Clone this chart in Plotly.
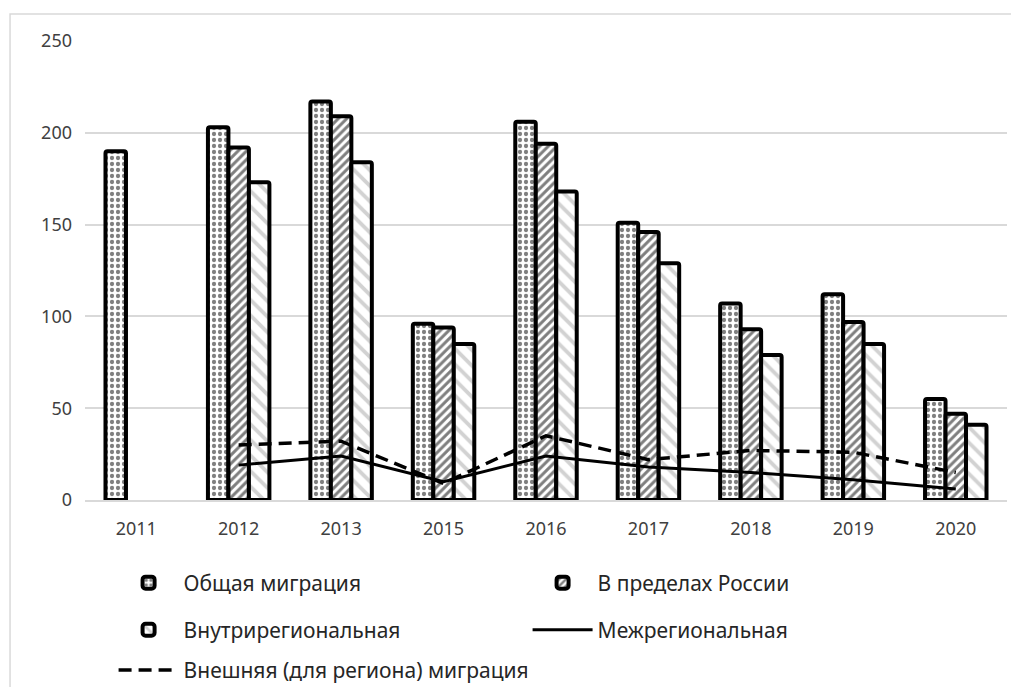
import plotly.graph_objects as go

years = ['2011', '2012', '2013', '2015', '2016', '2017', '2018', '2019', '2020']

total = [190, 203, 217, 96, 206, 151, 107, 112, 55]
russia = [None, 192, 209, 94, 194, 146, 93, 97, 47]
intra = [None, 173, 184, 85, 168, 129, 79, 85, 41]
inter = [None, 19, 24, 10, 24, 18, 15, 11, 6]
external = [None, 30, 32, 9, 35, 22, 27, 26, 15]

font = "Noto Sans"

fig = go.Figure()

fig.add_trace(go.Bar(
    x=years, y=total, name='Общая миграция', legend='legend',
    marker=dict(color='white', line=dict(color='black', width=4), cornerradius=2,
                pattern=dict(shape='.', fgcolor='black', bgcolor='white', size=6, solidity=0.4)),
))
fig.add_trace(go.Bar(
    x=years, y=russia, name='В пределах России', legend='legend',
    marker=dict(color='white', line=dict(color='black', width=4), cornerradius=2,
                pattern=dict(shape='/', fgcolor='black', bgcolor='white', size=6, solidity=0.5)),
))
fig.add_trace(go.Bar(
    x=years, y=intra, name='Внутрирегиональная', legend='legend2',
    marker=dict(color='white', line=dict(color='black', width=4), cornerradius=2,
                pattern=dict(shape='\\', fgcolor='#a6a6a6', bgcolor='white', size=11, solidity=0.35)),
))
fig.add_trace(go.Scatter(
    x=years, y=inter, name='Межрегиональная', legend='legend2', mode='lines',
    line=dict(color='black', width=3),
))
fig.add_trace(go.Scatter(
    x=years, y=external, name='Внешняя (для региона) миграция', legend='legend3', mode='lines',
    line=dict(color='black', width=3.5, dash='13px,7px'),
))

# page body has an 8px margin, so the figure is drawn 16px smaller
leg = dict(orientation='h', x=0.031, xanchor='left', yref='container', yanchor='middle',
           font=dict(family=font, size=21, color='#262626'),
           entrywidth=339, entrywidthmode='pixels', bgcolor='rgba(0,0,0,0)',
           itemwidth=60, traceorder='normal')

fig.update_layout(
    width=1003, height=679,
    margin=dict(l=77, r=4, t=33, b=187, autoexpand=False),
    paper_bgcolor='white', plot_bgcolor='white',
    barmode='group', bargap=0.4, bargroupgap=0,
    font=dict(family=font, size=18, color='#404040'),
    xaxis=dict(type='category', showgrid=False, showline=True, linecolor='#d9d9d9', linewidth=1.5,
               ticks='', ticklabelstandoff=12, tickfont=dict(size=18, color='#404040')),
    yaxis=dict(range=[0, 250], dtick=50, showgrid=True, gridcolor='#d9d9d9', gridwidth=1.5,
               zeroline=False, ticks='', ticklabelstandoff=12, tickfont=dict(size=18, color='#404040')),
    legend=dict(leg, y=0.1532),
    legend2=dict(leg, y=0.0839),
    legend3=dict(leg, y=0.0245),
    shapes=[dict(type='rect', xref='paper', yref='paper', x0=-0.0813, x1=1.1, y0=-0.6, y1=1.0588,
                 line=dict(color='#d9d9d9', width=1.5), fillcolor='rgba(0,0,0,0)', layer='below')],
)

fig.write_html("out.html")
